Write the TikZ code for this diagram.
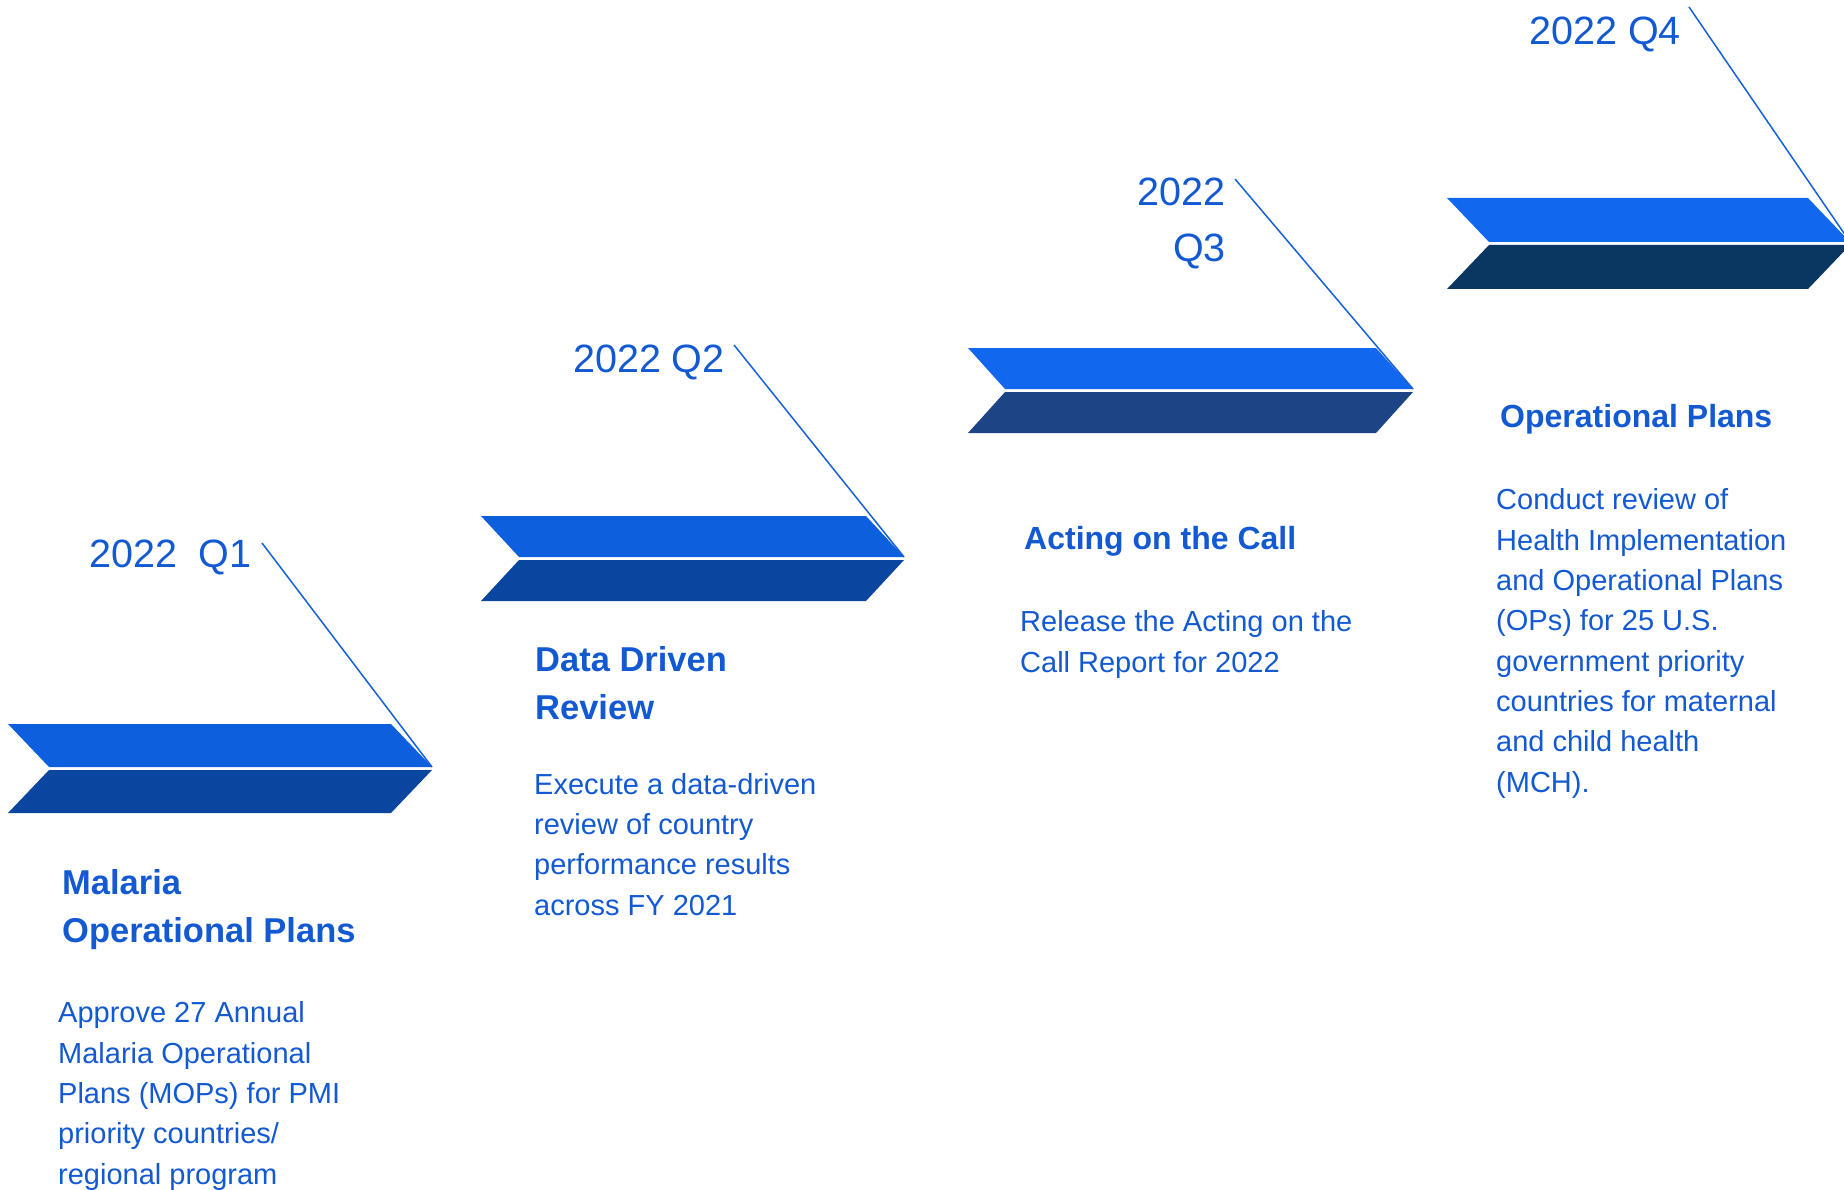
\documentclass[tikz,border=0pt]{standalone}
\usepackage{fontspec}
\setmainfont{Liberation Sans}

\definecolor{txtblue}{HTML}{1259D2}
\definecolor{lineblue}{HTML}{1560DC}
\definecolor{topblue}{HTML}{0D5FDD}
\definecolor{topbright}{HTML}{1168EF}
\definecolor{lowblue}{HTML}{0A45A0}
\definecolor{lowslate}{HTML}{1D4585}
\definecolor{lownavy}{HTML}{093762}

\begin{document}
\begin{tikzpicture}[x = 1pt, y = -1pt,
	yearlbl/.style = {text = txtblue, inner sep = 0, align = right, font = \fontsize{39.5}{56}\selectfont},
	titlelbl/.style = {text = txtblue, inner sep = 0, align = left, font = \fontsize{32}{48}\selectfont\bfseries},
	bigtitlelbl/.style = {titlelbl, font = \fontsize{34.5}{48}\selectfont\bfseries},
	bodylbl/.style = {text = txtblue, inner sep = 0, align = left, font = \fontsize{29}{40.3}\selectfont},
	leader/.style = {lineblue, line width = 1.5pt}]
	 \useasboundingbox (0, 0) rectangle (1844, 1190);
	 
	 \foreach \l/\t/\w/\d/\h/\up/\lo/\n in {8/724/383/41/43/topblue/lowblue/1, 481/516/385/38/41/topblue/lowblue/2, 968/348/408/37/41/topbright/lowslate/3, 1447/198/361/42/44/topbright/lownavy/4}
	 {
	 \fill[\up] (\l, \t) -- ++(\w, 0) -- ++(\d, \h) -- (\l + \d, \t + \h) -- cycle;
	 \fill[\lo] (\l + \d, \t + \h + 3) -- ++(\w, 0) -- ++(-\d, \h) -- ++(-\w, 0) -- cycle;
	 \coordinate (tip\n) at (\l + \w + \d, \t + \h);
	 }
	 
	 % base of a multi-line node = baseline of its last line
	 \node[yearlbl, anchor = base west] (yr1) at (89, 567) {2022\ \ Q1};
	 \node[yearlbl, anchor = base west] (yr2) at (573, 372) {2022 Q2};
	 \node[yearlbl, anchor = base east] (yr3) at (1226, 262) {2022\\Q3};
	 \node[yearlbl, anchor = base west] (yr4) at (1529, 45) {2022 Q4};
	 
	 \coordinate (lead1) at (262, 543);
	 \coordinate (lead2) at (734, 345);
	 \coordinate (lead3) at (1235, 179);
	 \coordinate (lead4) at (1689, 7);
	 \foreach \n in {1, ..., 4}
	 \draw[leader] (lead\n) -- (tip\n);
	 
	 \node[bigtitlelbl, anchor = base west] (ttl1) at (62, 942) {Malaria\\Operational Plans};
	 \node[bigtitlelbl, anchor = base west] (ttl2) at (535, 719) {Data Driven\\Review};
	 \node[titlelbl, anchor = base west] (ttl3) at (1024, 549) {Acting on the Call};
	 \node[titlelbl, anchor = base west] (ttl4) at (1500, 427) {Operational Plans};
	 
	 \node[bodylbl, anchor = base west] (txt1) at (58, 1184) {Approve 27 Annual\\Malaria Operational\\Plans (MOPs) for PMI\\priority countries/\\regional program};
	 \node[bodylbl, anchor = base west] (txt2) at (534, 915) {Execute a data-driven\\review of country\\performance results\\across FY 2021};
	 \node[bodylbl, anchor = base west] (txt3) at (1020, 672) {Release the Acting on the\\Call Report for 2022};
	 \node[bodylbl, anchor = base west] (txt4) at (1496, 792) {Conduct review of\\Health Implementation\\and Operational Plans\\(OPs) for 25 U.S.\\government priority\\countries for maternal\\and child health\\(MCH).};
\end{tikzpicture}
\end{document}
